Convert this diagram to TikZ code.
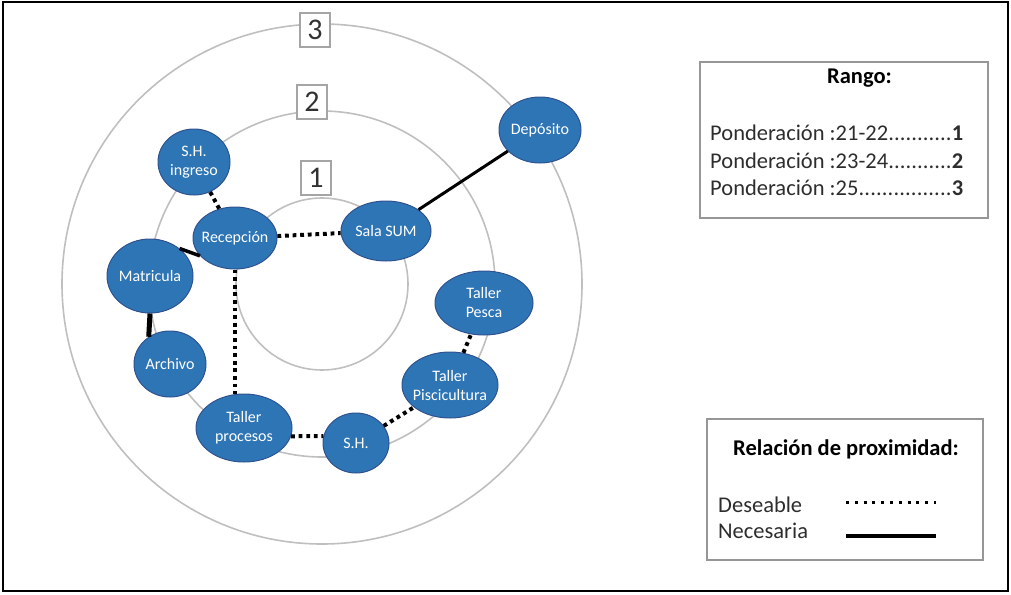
\documentclass[tikz,border=0pt]{standalone}
\usepackage{fontspec}
\setmainfont{Carlito}
\usetikzlibrary{shapes.geometric}

\definecolor{roomblue}{RGB}{46,117,182}
\definecolor{roomedge}{RGB}{47,82,143}
\definecolor{ringgray}{RGB}{191,191,191}
\definecolor{rankgray}{RGB}{165,165,165}
\definecolor{boxgray}{RGB}{150,150,150}
\definecolor{digitgray}{RGB}{50,50,50}
\definecolor{legendtext}{RGB}{45,45,45}

\begin{document}
\begin{tikzpicture}[x=1pt,y=-1pt,
  ring/.style={draw=ringgray, line width=1.6pt},
  rank/.style={draw=rankgray, line width=1.2pt, fill=white, inner sep=0pt,
    minimum width=30pt, minimum height=34pt, text=digitgray,
    font=\fontsize{30}{30}\selectfont},
  room/.style n args={2}{ellipse, draw=roomedge, line width=1pt, fill=roomblue,
    minimum width=#1pt, minimum height=#2pt, inner sep=0pt},
  roomtxt/.style={text=white, align=center, inner sep=0pt,
    font=\fontsize{16}{19}\selectfont},
  desirable/.style={line width=4pt, dash pattern=on 3.8pt off 3.8pt},
  required/.style={line width=3pt},
  legendbox/.style={draw=boxgray, line width=1.5pt, inner sep=0pt},
  legendtxt/.style={text=legendtext, inner sep=0pt,
    font=\fontsize{22.5}{27}\selectfont},
  legendhead/.style={text=black, inner sep=0pt,
    font=\fontsize{22.5}{27}\selectfont\bfseries},
]
\useasboundingbox (0,0) rectangle (1011,594);

% outer frame
\draw[line width=2pt] (3,2) rectangle (1008,591);

% concentric proximity rings
\coordinate (c) at (322,284);
\draw[ring] (c) circle[radius=86pt];
\draw[ring] (c) circle[radius=173pt];
\draw[ring] (c) circle[radius=260pt];

% ring numbers
\node[rank] (k3) at (315,30) {3};
\node[rank] (k2) at (312,102) {2};
\node[rank] (k1) at (316,178) {1};

% rooms
\node[room={82}{66}, label={[roomtxt]center:Depósito}] (dep) at (540,130) {};
\node[room={72}{66}, label={[roomtxt]center:{S.H.\\ingreso}}] (shi) at (194,162) {};
\node[room={84}{62}, label={[roomtxt]center:Recepción}] (rec) at (235,238) {};
\node[room={90}{60}, label={[roomtxt]center:Sala SUM}] (sum) at (386,231) {};
\node[room={86}{74}, label={[roomtxt]center:Matricula}] (mat) at (150,276) {};
\node[room={72}{66}, label={[roomtxt]center:Archivo}] (arc) at (170,364) {};
\node[room={96}{68}, label={[roomtxt]center:{Taller\\procesos}}] (tpr) at (244,428) {};
\node[room={66}{60}, label={[roomtxt]center:S.H.}] (sh) at (356,443) {};
\node[room={96}{66}, label={[roomtxt]center:{Taller\\Piscicultura}}] (tpi) at (450,385) {};
\node[room={98}{64}, label={[roomtxt]center:{Taller\\Pesca}}] (tpe) at (484,303) {};

% relations
\draw[desirable] (shi) -- (rec);
\draw[desirable] (rec) -- (sum);
\draw[required] (sum) -- (dep);
\draw[required, line width=3.5pt] (mat.43) -- (rec.207);
\draw[required, line width=5pt] (mat.south) -- (arc.128);
\draw[desirable] (rec.south) -- (rec.south |- tpr.north);
\draw[desirable] (tpr.-10) -- (sh.168);
\draw[desirable] (sh) -- (tpi);
\draw[desirable] (tpi) -- (tpe);

% legend: ranges
\node[legendbox, minimum width=288pt, minimum height=156pt] (rango) at (844,140) {};
\node[legendhead, anchor=base west] (rtitle) at (827,83) {Rango:};
\node[legendtxt, anchor=base west] (r1) at (710,140)
  {\hbox to 253pt{Ponderación :21-22\xleaders\hbox{.}\hfill\textbf{1}}};
\node[legendtxt, anchor=base west] (r2) at (710,168)
  {\hbox to 253pt{Ponderación :23-24\xleaders\hbox{.}\hfill\textbf{2}}};
\node[legendtxt, anchor=base west] (r3) at (710,195)
  {\hbox to 253pt{Ponderación :25\xleaders\hbox{.}\hfill\textbf{3}}};

% legend: relation types
\node[legendbox, minimum width=276pt, minimum height=141pt] (prox) at (845,489.5) {};
\node[legendhead, anchor=base west] (ptitle) at (733,455) {Relación de proximidad:};
\node[legendtxt, anchor=base west] (des) at (718,512) {Deseable};
\node[legendtxt, anchor=base west] (nec) at (718,538) {Necesaria};
\coordinate (d1) at (846,502);
\coordinate (d2) at (936,502);
\coordinate (n1) at (846,536);
\coordinate (n2) at (936,536);
\draw[line width=3pt, dash pattern=on 3pt off 5.8pt] (d1) -- (d2);
\draw[line width=4pt] (n1) -- (n2);
\end{tikzpicture}
\end{document}
